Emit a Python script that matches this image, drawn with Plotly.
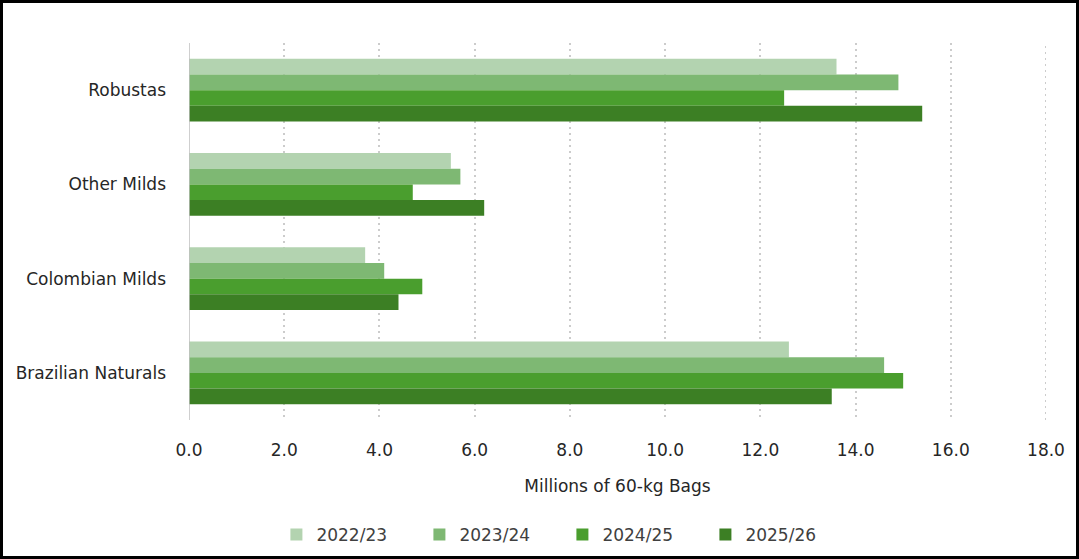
import plotly.graph_objects as go

categories = ["Robustas", "Other Milds", "Colombian Milds", "Brazilian Naturals"]
seasons = ["2022/23", "2023/24", "2024/25", "2025/26"]
v_2022_23 = [13.6, 5.5, 3.7, 12.6]
v_2023_24 = [14.9, 5.7, 4.1, 14.6]
v_2024_25 = [12.5, 4.7, 4.9, 15.0]
v_2025_26 = [15.4, 6.2, 4.4, 13.5]
series = [v_2022_23, v_2023_24, v_2024_25, v_2025_26]
colors = ["#b3d3b0", "#7eb873", "#4a9e2e", "#3c7f24"]
x_ticks = [0, 2, 4, 6, 8, 10, 12, 14, 16, 18]

W, H = 1079, 559
ML, MR, MT, MB = 189, 33, 43, 139

fig = go.Figure()
for name, vals, c in zip(seasons, series, colors):
    fig.add_trace(go.Bar(
        y=categories, x=vals, name=name, orientation="h",
        marker=dict(color=c, line=dict(width=0)),
    ))

font_family = "DejaVu Sans, sans-serif"
grid_color = "#cccccc"
grid_dash = "2px,4px"
pw = W - ML - MR
ph = H - MT - MB
fig.update_layout(
    width=W, height=H,
    margin=dict(l=ML, r=MR, t=MT, b=MB, pad=0, autoexpand=False),
    paper_bgcolor="white", plot_bgcolor="white",
    barmode="group", bargap=0.335, bargroupgap=0,
    font=dict(family=font_family, size=17, color="#262626"),
    xaxis=dict(
        range=[0, 18], tickvals=x_ticks,
        ticktext=[f"{t:.1f}" for t in x_ticks],
        showgrid=True, gridcolor=grid_color, gridwidth=2, griddash=grid_dash,
        zeroline=False, showline=False, ticks="", ticklabelstandoff=18,
        tickfont=dict(size=17, color="#262626"),
        title=dict(text="Millions of 60-kg Bags", font=dict(size=17, color="#262626"), standoff=21),
        fixedrange=True, automargin=False,
    ),
    yaxis=dict(
        autorange="reversed", showgrid=False, zeroline=False,
        showline=False, ticks="", ticklabelstandoff=22,
        tickfont=dict(size=17, color="#262626"), fixedrange=True, automargin=False,
    ),
    legend=dict(
        orientation="h", x=0.102, xanchor="left", y=-0.305, yanchor="middle",
        font=dict(size=17, color="#404040"), traceorder="normal",
        itemwidth=30, entrywidthmode="pixels", entrywidth=98,
    ),
    showlegend=True,
)
# gridline at the right end of the axis (plotly skips the boundary one)
fig.add_shape(type="line", xref="x", yref="paper", x0=x_ticks[-1], x1=x_ticks[-1], y0=0, y1=1,
              line=dict(color=grid_color, width=2, dash=grid_dash), layer="below")
# left axis line (solid gray)
fig.add_shape(type="line", xref="x", yref="paper", x0=0, x1=0, y0=0, y1=1,
              line=dict(color="#bfbfbf", width=1.5))
# outer black frame
fig.add_shape(type="rect", xref="paper", yref="paper",
              x0=-(ML - 1.5) / pw, x1=1 + (MR - 1.5) / pw,
              y0=-(MB - 1.5) / ph, y1=1 + (MT - 1.5) / ph,
              line=dict(color="black", width=3), fillcolor="rgba(0,0,0,0)", layer="above")

fig.write_html("out.html", config={"displayModeBar": False},
               post_script="document.body.style.margin='0';document.body.style.overflow='hidden';")
